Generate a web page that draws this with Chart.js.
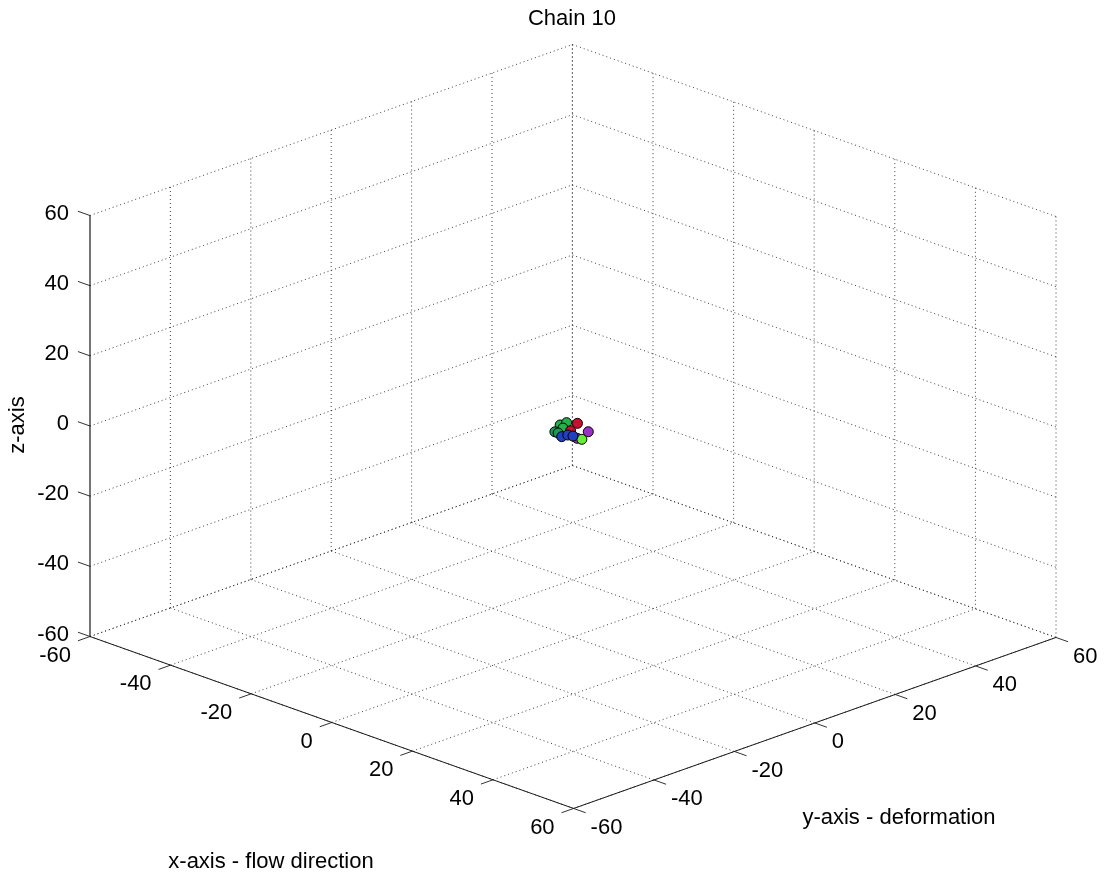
<!DOCTYPE html>
<html>
<head>
<meta charset="utf-8">
<script src="https://cdn.jsdelivr.net/npm/chart.js@4.4.1/dist/chart.umd.min.js"></script>
<style>
  html, body { margin: 0; padding: 0; background: #ffffff; }
  #wrap { width: 1105px; height: 884px; }
</style>
</head>
<body>
<div id="wrap"><canvas id="c" width="1105" height="884"></canvas></div>
<script>
// ---------- data ----------
const TITLE = 'Chain 10';
const X_LABEL = 'x-axis - flow direction';
const Y_LABEL = 'y-axis - deformation';
const Z_LABEL = 'z-axis';

const TICKS = [-60, -40, -20, 0, 20, 40, 60];
const TICK_LABELS = ['-60', '-40', '-20', '0', '20', '40', '60'];

// bead coordinates (x, y, z) per colour group
const greenX = [-0.9, -0.3, -0.7];
const greenY = [-2.3, -1.3, -1.8];
const greenZ = [1.0, 1.5, 0.0];

const darkGreenX = [-1.0, -0.8];
const darkGreenY = [-3.5, -2.9];
const darkGreenZ = [-0.5, -1.0];

const redX = [1.9, 1.2];
const redY = [-0.8, -1.8];
const redZ = [2.0, 0.0];

const blueX = [-0.3, 0.5, 0.9];
const blueY = [-2.5, -1.8, -0.9];
const blueZ = [-2.0, -1.5, -2.0];

const purpleX = [2.5, 1.55];
const purpleY = [1.3, -0.55];
const purpleZ = [-1.0, -2.5];

const limeX = [1.9];
const limeY = [0.3];
const limeZ = [-3.0];

// ---------- 3D view (orthographic) ----------
const VIEW = { ox: 573, oy: 426.5, xx: 4.03, xy: 1.433, yx: 4.02, yy: -1.425, zy: -3.508 };
function proj(x, y, z) {
  return { x: VIEW.ox + VIEW.xx * x + VIEW.yx * y, y: VIEW.oy + VIEW.xy * x + VIEW.yy * y + VIEW.zy * z };
}
const LO = TICKS[0], HI = TICKS[TICKS.length - 1];
const TICK_LEN = 3;

function seg(a, b, color, width, dash, order) {
  return {
    type: 'scatter', showLine: true, data: [proj(...a), proj(...b)],
    borderColor: color, borderWidth: width, borderDash: dash,
    pointRadius: 0, pointHoverRadius: 0, fill: false, order: order, clip: false
  };
}

const datasets = [];
const GRID = 'rgba(30,30,30,0.85)';
const DOT = [1, 3];
TICKS.forEach(t => {
  // floor z = LO
  datasets.push(seg([t, LO, LO], [t, HI, LO], GRID, 1, DOT, 20));
  datasets.push(seg([LO, t, LO], [HI, t, LO], GRID, 1, DOT, 20));
  // left wall x = LO
  if (t !== LO) datasets.push(seg([LO, t, LO], [LO, t, HI], GRID, 1, DOT, 20));
  datasets.push(seg([LO, LO, t], [LO, HI, t], GRID, 1, DOT, 20));
  // right wall y = HI
  datasets.push(seg([t, HI, LO], [t, HI, HI], GRID, 1, DOT, 20));
  datasets.push(seg([LO, HI, t], [HI, HI, t], GRID, 1, DOT, 20));
});
// solid axes
const AX = '#1a1a1a';
datasets.push(seg([LO, LO, LO], [LO, LO, HI], AX, 1.2, [], 10));
datasets.push(seg([LO, LO, LO], [HI, LO, LO], AX, 1, [], 10));
datasets.push(seg([HI, LO, LO], [HI, HI, LO], AX, 1, [], 10));
// tick marks
const TK = '#333333';
TICKS.forEach(t => {
  datasets.push(seg([LO, LO, t], [LO - TICK_LEN, LO, t], TK, 1, [], 10));
  datasets.push(seg([t, LO, LO], [t, LO - TICK_LEN, LO], TK, 1, [], 10));
  datasets.push(seg([HI, t, LO], [HI + TICK_LEN, t, LO], TK, 1, [], 10));
});

function beads(xs, ys, zs, color, order) {
  return {
    type: 'scatter', data: xs.map((x, i) => proj(x, ys[i], zs[i])),
    backgroundColor: color, borderColor: '#000000', borderWidth: 1,
    pointRadius: 5, pointHoverRadius: 5, showLine: false, order: order, clip: false
  };
}
datasets.push(beads(greenX, greenY, greenZ, '#22b14c', 6));
datasets.push(beads(darkGreenX, darkGreenY, darkGreenZ, '#1f9a55', 5));
datasets.push(beads(redX, redY, redZ, '#c8102e', 4));
datasets.push(beads(purpleX, purpleY, purpleZ, '#9b30c8', 3));
datasets.push(beads(limeX, limeY, limeZ, '#66ee33', 2));
datasets.push(beads(blueX, blueY, blueZ, '#2040c0', 1));

// ---------- text ----------
const FONT = '22px "Liberation Sans", Arial, sans-serif';
const textPlugin = {
  id: 'texts',
  beforeDraw(chart) {
    const ctx = chart.ctx;
    ctx.save();
    ctx.fillStyle = '#ffffff';
    ctx.fillRect(0, 0, chart.width, chart.height);
    ctx.restore();
  },
  afterDraw(chart) {
    const ctx = chart.ctx, sx = chart.scales.x, sy = chart.scales.y;
    const px = p => ({ x: sx.getPixelForValue(p.x), y: sy.getPixelForValue(p.y) });
    ctx.save();
    ctx.fillStyle = '#000000';
    ctx.font = FONT;
    ctx.textBaseline = 'middle';
    TICKS.forEach((t, i) => {
      const lab = TICK_LABELS[i];
      let p = px(proj(LO, LO, t));
      ctx.textAlign = 'right';
      ctx.fillText(lab, p.x - 21, p.y - 2);
      p = px(proj(t, LO, LO));
      ctx.fillText(lab, p.x - 19, p.y + 19);
      p = px(proj(HI, t, LO));
      ctx.textAlign = 'left';
      ctx.fillText(lab, p.x + 17, p.y + 19);
    });
    ctx.textAlign = 'center';
    ctx.fillText(TITLE, 572, 19);
    ctx.fillText(X_LABEL, 271, 862);
    ctx.fillText(Y_LABEL, 899, 818);
    ctx.translate(18, 425);
    ctx.rotate(-Math.PI / 2);
    ctx.fillText(Z_LABEL, 0, 0);
    ctx.restore();
  }
};

new Chart(document.getElementById('c'), {
  type: 'scatter',
  data: { datasets },
  options: {
    responsive: false,
    animation: false,
    layout: { padding: 0, autoPadding: false },
    plugins: { legend: { display: false }, tooltip: { enabled: false }, title: { display: false } },
    scales: {
      x: { type: 'linear', min: 0, max: 1105, display: false },
      y: { type: 'linear', min: 0, max: 884, reverse: true, display: false }
    },
    events: []
  },
  plugins: [textPlugin]
});
</script>
</body>
</html>
